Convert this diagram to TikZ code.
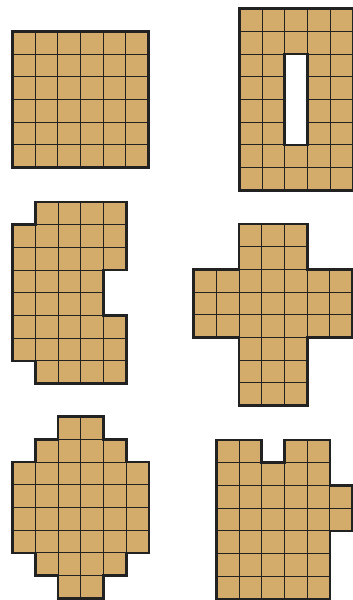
\documentclass[tikz,border=0pt]{standalone}
\definecolor{tan}{RGB}{211,171,106}
\definecolor{edge}{RGB}{34,34,34}
\tikzset{
  cellst/.style={fill=tan,draw=edge,line width=0.9pt},
  outline/.style={draw=edge,line width=2.6pt,line join=miter},
  grid/.style={x=22.7pt,y=-22.7pt}
}
\begin{document}
\begin{tikzpicture}[x=1pt,y=-1pt]
\useasboundingbox (0,0) rectangle (353,600);
% shape 1
\begin{scope}[shift={(12.3,31.3)}]\begin{scope}[grid]
\foreach \r in {0,...,5} \foreach \c in {0,...,5} \draw[cellst] (\c,\r) rectangle +(1,1);
\draw[outline] (0,0) rectangle (6,6);
\end{scope}\end{scope}
% shape 2
\begin{scope}[shift={(239.3,8.7)}]\begin{scope}[grid]
\foreach \r/\a/\b in {0/0/4,1/0/4,2/0/1,2/3/4,3/0/1,3/3/4,4/0/1,4/3/4,5/0/1,5/3/4,6/0/4,7/0/4}
  \foreach \c in {\a,...,\b} \draw[cellst] (\c,\r) rectangle +(1,1);
\draw[outline] (0,0) rectangle (5,8);
\draw[outline] (2,2) rectangle (3,6);
\end{scope}\end{scope}
% shape 3
\begin{scope}[shift={(12.7,202)}]\begin{scope}[grid]
\foreach \r/\a/\b in {0/1/4,1/0/4,2/0/4,3/0/3,4/0/3,5/0/4,6/0/4,7/1/4}
  \foreach \c in {\a,...,\b} \draw[cellst] (\c,\r) rectangle +(1,1);
\draw[outline] (1,0)--(5,0)--(5,3)--(4,3)--(4,5)--(5,5)--(5,8)--(1,8)--(1,7)--(0,7)--(0,1)--(1,1)--cycle;
\end{scope}\end{scope}
% shape 4
\begin{scope}[shift={(193.7,224)}]\begin{scope}[grid]
\foreach \r/\a/\b in {0/2/4,1/2/4,2/0/6,3/0/6,4/0/6,5/2/4,6/2/4,7/2/4}
  \foreach \c in {\a,...,\b} \draw[cellst] (\c,\r) rectangle +(1,1);
\draw[outline] (2,0)--(5,0)--(5,2)--(7,2)--(7,5)--(5,5)--(5,8)--(2,8)--(2,5)--(0,5)--(0,2)--(2,2)--cycle;
\end{scope}\end{scope}
% shape 5
\begin{scope}[shift={(12.7,416.7)}]\begin{scope}[grid]
\foreach \r/\a/\b in {0/2/3,1/1/4,2/0/5,3/0/5,4/0/5,5/0/5,6/1/4,7/2/3}
  \foreach \c in {\a,...,\b} \draw[cellst] (\c,\r) rectangle +(1,1);
\draw[outline] (2,0)--(4,0)--(4,1)--(5,1)--(5,2)--(6,2)--(6,6)--(5,6)--(5,7)--(4,7)--(4,8)--(2,8)--(2,7)--(1,7)--(1,6)--(0,6)--(0,2)--(1,2)--(1,1)--(2,1)--cycle;
\end{scope}\end{scope}
% shape 6
\begin{scope}[shift={(216.3,440)}]\begin{scope}[grid]
\foreach \r/\a/\b in {0/0/1,0/3/4,1/0/4,2/0/5,3/0/5,4/0/4,5/0/4,6/0/4}
  \foreach \c in {\a,...,\b} \draw[cellst] (\c,\r) rectangle +(1,1);
\draw[outline] (0,0)--(2,0)--(2,1)--(3,1)--(3,0)--(5,0)--(5,2)--(6,2)--(6,4)--(5,4)--(5,7)--(0,7)--cycle;
\end{scope}\end{scope}
\end{tikzpicture}
\end{document}
